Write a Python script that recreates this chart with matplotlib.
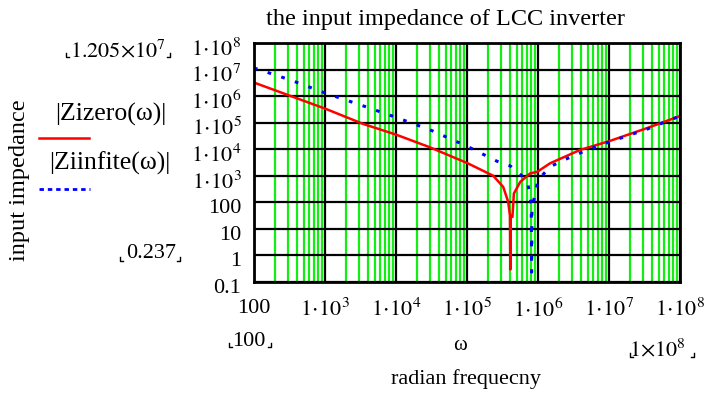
import numpy as np
import matplotlib
matplotlib.use("Agg")
import matplotlib.pyplot as plt
from matplotlib.lines import Line2D
from matplotlib.transforms import ScaledTranslation
from matplotlib.ticker import LogLocator, NullLocator

plt.rcParams['font.family'] = ['Liberation Serif', 'DejaVu Serif']
plt.rcParams['mathtext.fontset'] = 'stix'
plt.rcParams['font.size'] = 16

###############################################################################
# values (log10 of omega, log10 of |Z|)
red_logw = [2.0, 2.5, 3.01, 3.54, 4.0, 4.48, 5.01, 5.37, 5.51, 5.58, 5.605,
            5.61, 5.615, 5.64, 5.66, 5.75, 5.89, 5.99, 6.17, 6.59, 7.01, 7.53, 8.0]
red_logz = [6.51, 6.02, 5.52, 4.95, 4.55, 4.07, 3.47, 3.0, 2.58, 2.02, 1.5,
            -0.53, 1.5, 1.45, 2.33, 2.77, 3.09, 3.15, 3.47, 3.97, 4.31, 4.79, 5.25]

blue_logw = [2.0, 2.51, 3.01, 3.54, 4.0, 4.48, 5.01, 5.42, 5.61, 5.79, 5.86,
             5.905, 5.91, 5.915, 5.94, 6.0, 6.17, 6.36, 6.64, 7.01, 7.53, 8.0]
blue_logz = [7.06, 6.61, 6.11, 5.63, 5.20, 4.73, 4.10, 3.55, 3.37, 2.96, 2.65,
             1.95, -0.63, 1.95, 2.08, 2.84, 3.34, 3.59, 3.91, 4.28, 4.75, 5.25]

ytick_vals = [1e-1, 1, 10, 100, 1e3, 1e4, 1e5, 1e6, 1e7, 1e8]
ytick_labs = ['0.1', '1', '10', '100', r'$1\!\cdot\!10^{3}$', r'$1\!\cdot\!10^{4}$',
              r'$1\!\cdot\!10^{5}$', r'$1\!\cdot\!10^{6}$', r'$1\!\cdot\!10^{7}$',
              r'$1\!\cdot\!10^{8}$']
xtick_vals = [1e2, 1e3, 1e4, 1e5, 1e6, 1e7, 1e8]
xtick_labs = ['100', r'$1\!\cdot\!10^{3}$', r'$1\!\cdot\!10^{4}$', r'$1\!\cdot\!10^{5}$',
              r'$1\!\cdot\!10^{6}$', r'$1\!\cdot\!10^{7}$', r'$1\!\cdot\!10^{8}$']

w_red = 10 ** np.array(red_logw)
z_red = 10 ** np.array(red_logz)
w_blue = 10 ** np.array(blue_logw)
z_blue = 10 ** np.array(blue_logz)

W, H = 721, 398


def px(x, y):
    return x / W, 1 - y / H


def corners(x0, x1, y):
    # little mathcad limit-marker corners
    a, b = px(x0, y)
    c, d = px(x1, y)
    h = 4 / H
    w = 3 / W
    fig.add_artist(Line2D([a, a, a + w], [b + h, b, b], color='black', lw=1))
    fig.add_artist(Line2D([c - w, c, c], [d, d, d + h], color='black', lw=1))


###############################################################################
fig = plt.figure(figsize=(7.21, 3.98), dpi=100)
ax = fig.add_axes([254 / W, 1 - 282 / H, 426 / W, 239 / H])
ax.set_xscale('log')
ax.set_yscale('log')
ax.set_xlim(1e2, 1e8)
ax.set_ylim(1e-1, 1e8)

# grid: green minor verticals, black decades
ax.set_xticks(xtick_vals)
ax.set_xticklabels(xtick_labs)
ax.set_yticks(ytick_vals)
ax.set_yticklabels(ytick_labs)
ax.xaxis.set_minor_locator(LogLocator(base=10, subs=np.arange(2, 10), numticks=100))
ax.yaxis.set_minor_locator(NullLocator())
ax.grid(True, which='minor', axis='x', color='#11ee11', lw=1.6)
ax.grid(True, which='major', color='black', lw=1.6)
ax.set_axisbelow(True)
ax.tick_params(which='both', length=0)
ax.tick_params(axis='x', pad=12)
ax.tick_params(axis='y', pad=9)
for lab in ax.get_yticklabels():
    lab.set_transform(lab.get_transform() + ScaledTranslation(0, -4 / 100, fig.dpi_scale_trans))
for s in ax.spines.values():
    s.set_linewidth(2)

ax.plot(w_red, z_red, color='red', lw=1.8)
ax.plot(w_blue, z_blue, color='blue', lw=2.2, linestyle=(0, (1.2, 3.5)))

# text around the plot, mathcad style
fig.text(*px(445, 20), 'the input impedance of LCC inverter', ha='center', va='center',
         fontsize=17.5)
fig.text(*px(20, 180), 'input impedance', rotation=90, ha='center', va='center',
         fontsize=17.5)
fig.text(*px(166, 51), r'$1.205{\times}10^{7}$', ha='right', va='center')
corners(66, 170, 57)
fig.text(*px(176, 253), '0.237', ha='right', va='center')
corners(120, 180, 261)
fig.text(*px(249, 341), '100', ha='center', va='center')
corners(229, 271, 347)
fig.text(*px(657, 350), r'$1{\times}10^{8}$', ha='center', va='center')
corners(630, 694, 357)
fig.text(*px(460, 345), 'ω', ha='center', va='center', fontsize=15)
fig.text(*px(466, 379), 'radian frequecny', ha='center', va='center')

# legend
fig.text(*px(166, 114), '|Zizero(ω)|', ha='right', va='center', fontsize=18.5)
fig.add_artist(Line2D(*zip(px(39, 138), px(89, 138)), color='red', lw=1.8))
fig.text(*px(170, 163), '|Ziinfite(ω)|', ha='right', va='center', fontsize=18.5)
fig.add_artist(Line2D(*zip(px(39, 189), px(90, 189)), color='blue', lw=2,
                      linestyle=(0, (1.6, 1.4))))

fig.savefig('out.png', dpi=100)
